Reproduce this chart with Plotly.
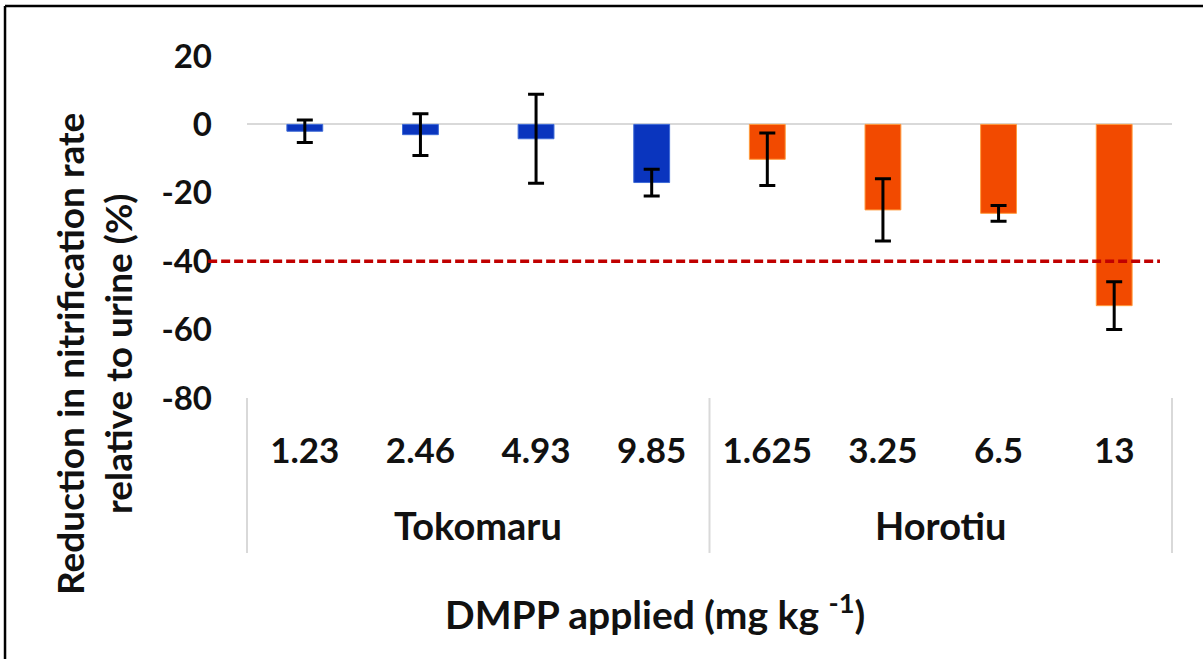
import plotly.graph_objects as go

# ---- data ----
soils = ["Tokomaru", "Horotiu"]
doses_tokomaru = ["1.23", "2.46", "4.93", "9.85"]
doses_horotiu = ["1.625", "3.25", "6.5", "13"]
reduction_tokomaru = [-2, -3, -4.2, -17]
error_tokomaru = [3.3, 6.1, 13, 3.9]
reduction_horotiu = [-10.2, -25, -26, -53]
error_horotiu = [7.7, 9.1, 2.3, 7]
threshold = -40
y_ticks = [20, 0, -20, -40, -60, -80]

FONT = "Lato, 'Open Sans', sans-serif"
TXT = "#111111"

categories = doses_tokomaru + doses_horotiu
n_cat = len(categories)

fig = go.Figure()
fig.add_trace(go.Bar(
    x=doses_tokomaru, y=reduction_tokomaru, width=0.31,
    marker=dict(color="#0A35BE", line=dict(color="#3D6AD6", width=1)),
    error_y=dict(type="data", array=error_tokomaru, visible=True,
                 color="#000000", thickness=3, width=8),
    name="Tokomaru", showlegend=False))
fig.add_trace(go.Bar(
    x=doses_horotiu, y=reduction_horotiu, width=0.31,
    marker=dict(color="#F24A00", line=dict(color="#FF9A3C", width=1)),
    error_y=dict(type="data", array=error_horotiu, visible=True,
                 color="#000000", thickness=3, width=8),
    name="Horotiu", showlegend=False))

shapes = []
# threshold line
shapes.append(dict(type="line", xref="paper", yref="y", x0=-0.042, x1=0.987,
                   y0=threshold, y1=threshold,
                   line=dict(color="#C00000", width=3.5, dash="9px,4px"), layer="above"))
# group dividers
group_sizes = [len(doses_tokomaru), len(doses_horotiu)]
bounds = [0]
for g in group_sizes:
    bounds.append(bounds[-1] + g)
for b in bounds:
    shapes.append(dict(type="line", xref="paper", yref="paper", x0=b / n_cat, x1=b / n_cat,
                       y0=0, y1=-0.453, line=dict(color="#D9D9D9", width=2)))
# frame (top and left)
shapes.append(dict(type="line", xref="paper", yref="paper", x0=-0.2616, x1=1.04,
                   y0=1.146, y1=1.146, line=dict(color="#000000", width=2.5)))
shapes.append(dict(type="line", xref="paper", yref="paper", x0=-0.2616, x1=-0.2616,
                   y0=1.146, y1=-0.77, line=dict(color="#000000", width=2.5)))

annotations = []
for i, s in enumerate(soils):
    annotations.append(dict(text=s, xref="paper", yref="paper",
                            x=(bounds[i] + bounds[i + 1]) / 2 / n_cat, y=-0.37,
                            showarrow=False, xanchor="center", yanchor="middle",
                            font=dict(family=FONT, size=38, color=TXT, weight="bold")))
annotations.append(dict(text="DMPP applied (mg kg <sup>-1</sup>)", xref="paper", yref="paper",
                        x=0.441, y=-0.625, showarrow=False, xanchor="center", yanchor="middle",
                        font=dict(family=FONT, size=39, color=TXT, weight="bold")))
annotations.append(dict(text="Reduction in nitrification rate<br>relative to urine (%)",
                        xref="paper", yref="paper", x=-0.166, y=0.13, textangle=-90,
                        showarrow=False, xanchor="center", yanchor="middle",
                        font=dict(family=FONT, size=37, color=TXT, weight="bold")))

fig.update_layout(
    width=1203, height=659,
    margin=dict(l=247, r=31, t=56, b=261),
    paper_bgcolor="white", plot_bgcolor="white",
    barmode="overlay",
    shapes=shapes, annotations=annotations,
    xaxis=dict(type="category", categoryorder="array", categoryarray=categories,
               range=[-0.5, n_cat - 0.5], showgrid=False, showline=False, zeroline=False,
               ticks="", ticklabelstandoff=29,
               tickfont=dict(family=FONT, size=35, color=TXT, weight="bold")),
    yaxis=dict(range=[y_ticks[-1], y_ticks[0]], tickvals=y_ticks,
               ticktext=[str(v) for v in y_ticks], showgrid=False,
               showline=False, zeroline=True, zerolinecolor="#D9D9D9", zerolinewidth=2,
               ticks="", ticklabelstandoff=34,
               tickfont=dict(family=FONT, size=33, color=TXT, weight="bold")),
)

fig.write_html("out.html", config={"displayModeBar": False},
               post_script="document.body.style.margin='0px';")
